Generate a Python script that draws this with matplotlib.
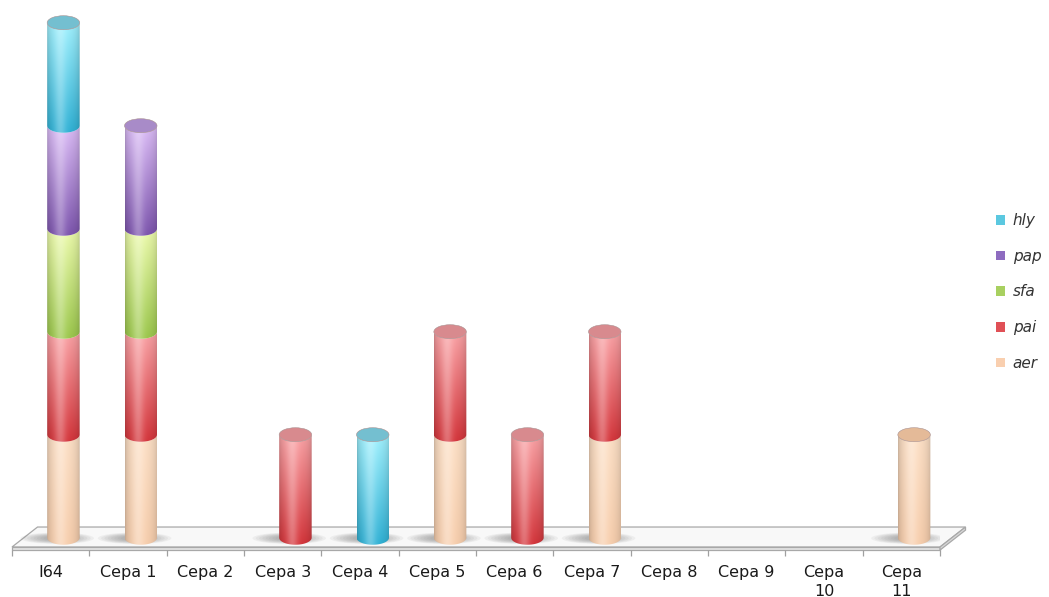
import numpy as np
import matplotlib.pyplot as plt
from matplotlib.path import Path
from matplotlib.patches import PathPatch, Polygon, Ellipse, Patch, Rectangle
from matplotlib.colors import to_rgb

# ---------------------------------------------------------------- #
# Data: presence (1) / absence (0) of each gene per strain
# ---------------------------------------------------------------- #
categories = ['I64', 'Cepa 1', 'Cepa 2', 'Cepa 3', 'Cepa 4', 'Cepa 5', 'Cepa 6',
              'Cepa 7', 'Cepa 8', 'Cepa 9', 'Cepa\n10', 'Cepa\n11']
aer = [1, 1, 0, 0, 0, 1, 0, 1, 0, 0, 0, 1]
pai = [1, 1, 0, 1, 0, 1, 1, 1, 0, 0, 0, 0]
sfa = [1, 1, 0, 0, 0, 0, 0, 0, 0, 0, 0, 0]
pap = [1, 1, 0, 0, 0, 0, 0, 0, 0, 0, 0, 0]
hly = [1, 0, 0, 0, 1, 0, 0, 0, 0, 0, 0, 0]

# name, values, gradient top, gradient bottom, cap colour, legend colour
series = [
    ('aer', aer, '#FDE0C6', '#F8CFAE', '#E4BA98', '#F9CFAF'),
    ('pai', pai, '#FBA4A7', '#D5353B', '#D88A8E', '#E05056'),
    ('sfa', sfa, '#EEFCAE', '#9CC84C', '#C2DA88', '#A8D060'),
    ('pap', pap, '#DDBEF8', '#7D55AE', '#A88BC8', '#8E6CC0'),
    ('hly', hly, '#A2F2FF', '#30B2D6', '#74BFD0', '#5BC8E0'),
]

# geometry of the 3d look, in data units
R = 0.21          # cylinder radius
H = 0.068         # half height of the ellipses
DX, DY = 0.33, 0.194   # depth of the floor
BASE = 0.09       # bars stand in the middle of the floor


def cylinder_rgb(top, bot, n=80):
    u = np.linspace(-1, 1, n)
    v = np.linspace(0, 1, n)[:, None, None]
    base = np.array(to_rgb(top)) * (1 - v) + np.array(to_rgb(bot)) * v
    shade = 0.78 + 0.22 * np.sqrt(1 - u ** 2)
    hl = 0.28 * np.exp(-((u + 0.2) / 0.35) ** 2)
    rgb = base * shade[None, :, None]
    rgb = rgb + (1 - rgb) * hl[None, :, None]
    return np.clip(rgb, 0, 1)


def segment_path(cx, y0, y1):
    t = np.linspace(np.pi, 2 * np.pi, 40)
    top = np.column_stack([cx + R * np.cos(t), y1 + H * np.sin(t)])
    bot = np.column_stack([cx + R * np.cos(t), y0 + H * np.sin(t)])[::-1]
    verts = np.vstack([[cx - R, y0], top, bot, [cx - R, y0]])
    return Path(verts, closed=True)


fig = plt.figure(figsize=(10.49, 5.97), dpi=100)
ax = fig.add_axes([12 / 1049, 50 / 597, 928 / 1049, 547 / 597])
ax.set_autoscale_on(False)
ax.set_xlim(-0.5, 11.5)
ax.set_ylim(0, 547 / 103)

# ---------------------------------------------------------------- #
# Floor
# ---------------------------------------------------------------- #
n = len(categories)
x0, x1 = -0.5, n - 0.5
floor = Polygon([[x0, 0], [x1, 0], [x1 + DX, DY], [x0 + DX, DY]], closed=True,
                facecolor='#F8F8F8', edgecolor='#A8A8A8', lw=0.9, clip_on=False, zorder=1)
ax.add_patch(floor)
ax.add_patch(Rectangle((x0, -0.03), x1 - x0, 0.03, facecolor='#E4E4E4', edgecolor='#A8A8A8',
                       lw=0.9, clip_on=False, zorder=1))
ax.add_patch(Polygon([[x1, -0.03], [x1, 0], [x1 + DX, DY], [x1 + DX, DY - 0.03]], closed=True,
                     facecolor='#D8D8D8', edgecolor='#A8A8A8', lw=0.9, clip_on=False, zorder=1))
ax.vlines(np.arange(n + 1) - 0.5, -0.09, -0.03, color='#A0A0A0', lw=0.9, clip_on=False)

# ---------------------------------------------------------------- #
# Stacked cylinders
# ---------------------------------------------------------------- #
centers = np.arange(n) + DX / 2
totals = np.zeros(n)
for name, vals, *_ in series:
    totals += np.array(vals)

for i in range(n):
    cx = centers[i]
    if totals[i] > 0:
        # soft shadow on the floor
        for k in range(8):
            ax.add_patch(Ellipse((cx - 0.08, BASE - 0.005), 0.95 - k * 0.085, 0.11 - k * 0.009,
                                 facecolor='#707070', edgecolor='none', alpha=0.08, zorder=2))
    bottom = BASE
    top_cap = None
    for name, vals, ctop, cbot, ccap, cleg in series:
        if vals[i] == 0:
            continue
        y0, y1 = bottom, bottom + vals[i]
        clip = PathPatch(segment_path(cx, y0, y1), transform=ax.transData,
                         facecolor='none', edgecolor='none', zorder=3)
        ax.add_patch(clip)
        im = ax.imshow(cylinder_rgb(ctop, cbot), extent=(cx - R, cx + R, y0 - H, y1),
                       aspect='auto', interpolation='bilinear', zorder=3)
        im.set_clip_path(clip)
        bottom = y1
        top_cap = ccap
    if top_cap is not None:
        ax.add_patch(Ellipse((cx, bottom), 2 * R, 2 * H, facecolor=top_cap,
                             edgecolor='#A89090', lw=0.4, zorder=4))

ax.set_xlim(-0.5, 11.5)
ax.set_ylim(0, 547 / 103)

# ---------------------------------------------------------------- #
# Axis labels and legend
# ---------------------------------------------------------------- #
ax.set_xticks(range(n))
ax.set_xticklabels(categories, fontsize=11.5, color='#1A1A1A', linespacing=1.3)
ax.tick_params(axis='x', length=0, pad=13)
ax.set_yticks([])
for s in ax.spines.values():
    s.set_visible(False)

handles = [Patch(facecolor=s[5], edgecolor='none', label=s[0]) for s in series[::-1]]
leg = fig.legend(handles=handles, loc='center left', bbox_to_anchor=(982 / 1049, 1 - 292 / 597),
                 frameon=False, handlelength=0.6, handleheight=0.6, handletextpad=0.5,
                 labelspacing=1.35, prop={'style': 'italic', 'size': 11})
for t in leg.get_texts():
    t.set_color('#333333')

plt.savefig('out.png', dpi=100)
